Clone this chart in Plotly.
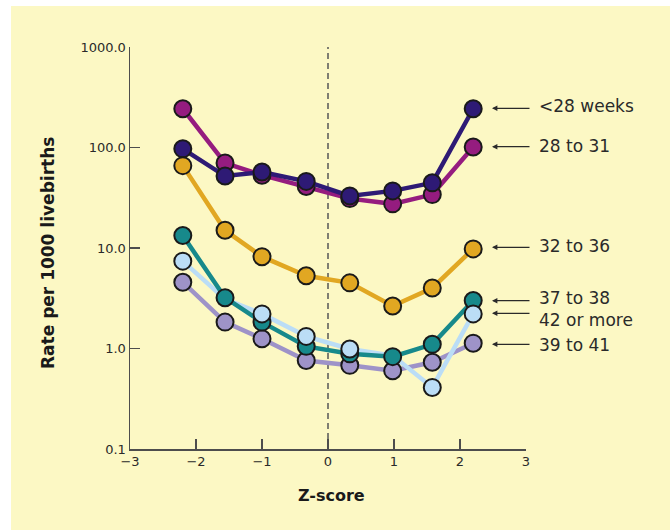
import plotly.graph_objects as go

# ---- data ----
z_scores = [-2.2, -1.56, -1.0, -0.33, 0.33, 0.98, 1.58, 2.2]
lt28 = [97, 52, 57, 46, 33, 37, 44.5, 243]
w28_31 = [243, 70, 53, 41, 31, 27.5, 34, 101]
w32_36 = [66, 15, 8.2, 5.3, 4.5, 2.65, 4.0, 9.8]
w37_38 = [13.3, 3.2, 1.83, 1.05, 0.885, 0.83, 1.10, 3.0]
w42_more = [7.4, 3.1, 2.21, 1.32, 0.99, 0.85, 0.41, 2.21]
w39_41 = [4.57, 1.83, 1.25, 0.76, 0.68, 0.60, 0.73, 1.13]
series_labels = ["<28 weeks", "28 to 31", "32 to 36", "37 to 38", "42 or more", "39 to 41"]
y_tickvals = [0.1, 1, 10, 100, 1000]
y_ticktext = ["0.1", "1.0", "10.0", "100.0", "1000.0"]
x_tickvals = [-3, -2, -1, 0, 1, 2, 3]

# ---- layout geometry (pixels) ----
W, H = 670, 530
L, R, T, B = 130, 144, 47, 81
PW, PH = W - L - R, H - T - B


def px_x(p):
    return (p - L) / PW


def px_y(p):
    return (H - B - p) / PH


BG = "#FCF8C4"
OUT = "#1a1a1a"
colors = {
    "navy": "#2E1A75",
    "magenta": "#951C7F",
    "gold": "#E1A722",
    "teal": "#17898B",
    "lightblue": "#BBDDF6",
    "lavender": "#9E93C8",
}
LW = 4.5
MS = 17

fig = go.Figure()


def add(y, color, mode="lines+markers", sizes=None):
    fig.add_trace(go.Scatter(
        x=z_scores, y=y, mode=mode,
        line=dict(color=color, width=LW),
        marker=dict(size=sizes if sizes is not None else MS, color=color,
                    opacity=1, line=dict(color=OUT, width=2)),
        showlegend=False, hoverinfo="skip", cliponaxis=False,
    ))


add(w28_31, colors["magenta"])
add(lt28, colors["navy"])
add(w32_36, colors["gold"])
add(w39_41, colors["lavender"])
add(w42_more, colors["lightblue"], mode="lines")
add(w37_38, colors["teal"])
hidden = {1, 5}
add(w42_more, colors["lightblue"], mode="markers",
    sizes=[0 if i in hidden else MS for i in range(len(z_scores))])

shapes = [
    dict(type="rect", xref="paper", yref="paper", layer="below",
         x0=px_x(11), x1=px_x(W + 5), y0=px_y(H + 5), y1=px_y(6),
         fillcolor=BG, line=dict(width=0)),
    dict(type="line", xref="x", yref="paper", layer="below",
         x0=0, x1=0, y0=0, y1=1,
         line=dict(color="#555555", width=1.5, dash="6px,4px")),
]

annotations = []
label_y = [105.5, 146, 246, 297.5, 319.5, 344.5]
arrow_y = [108.3, 146.7, 247.3, 300.7, 313.3, 344.3]
for txt, ly, ay in zip(series_labels, label_y, arrow_y):
    annotations.append(dict(
        xref="paper", yref="paper", x=px_x(537), y=px_y(ly), text=txt,
        showarrow=False, xanchor="left", yanchor="middle",
        font=dict(family="DejaVu Sans", size=17, color="#2a2a2a")))
    annotations.append(dict(
        xref="paper", yref="paper", x=px_x(492), y=px_y(ay), text="",
        showarrow=True, ax=39, ay=0, arrowhead=2, arrowsize=0.9,
        arrowwidth=1.2, arrowcolor="#2a2a2a", standoff=0, startstandoff=0))

annotations.append(dict(
    xref="paper", yref="paper", x=px_x(48), y=px_y(253),
    text="<b>Rate per 1000 livebirths</b>", textangle=-90, showarrow=False,
    xanchor="center", yanchor="middle",
    font=dict(family="DejaVu Sans", size=17, color="#1a1a1a")))
annotations.append(dict(
    xref="paper", yref="paper", x=px_x(331), y=px_y(495),
    text="<b>Z-score</b>", showarrow=False,
    xanchor="center", yanchor="middle",
    font=dict(family="DejaVu Sans", size=16, color="#1a1a1a")))

axis_common = dict(
    showline=True, linecolor="#4d4d4d", linewidth=1.5,
    ticks="inside", ticklen=10, tickwidth=1.5, tickcolor="#4d4d4d",
    showgrid=False, zeroline=False,
    tickfont=dict(family="DejaVu Sans", size=13, color="#2a2a2a"),
)

fig.update_layout(
    width=W, height=H,
    margin=dict(l=L, r=R, t=T, b=B, pad=0),
    paper_bgcolor="white", plot_bgcolor="rgba(0,0,0,0)",
    shapes=shapes, annotations=annotations,
    xaxis=dict(range=[-3, 3], tickvals=x_tickvals, **axis_common),
    yaxis=dict(type="log", range=[-1, 3], tickvals=y_tickvals,
               ticktext=y_ticktext, **axis_common),
)

fig.write_html(
    "out.html",
    config={"displayModeBar": False, "staticPlot": True},
    post_script="document.body.style.margin='0';document.body.style.overflow='hidden';",
)
